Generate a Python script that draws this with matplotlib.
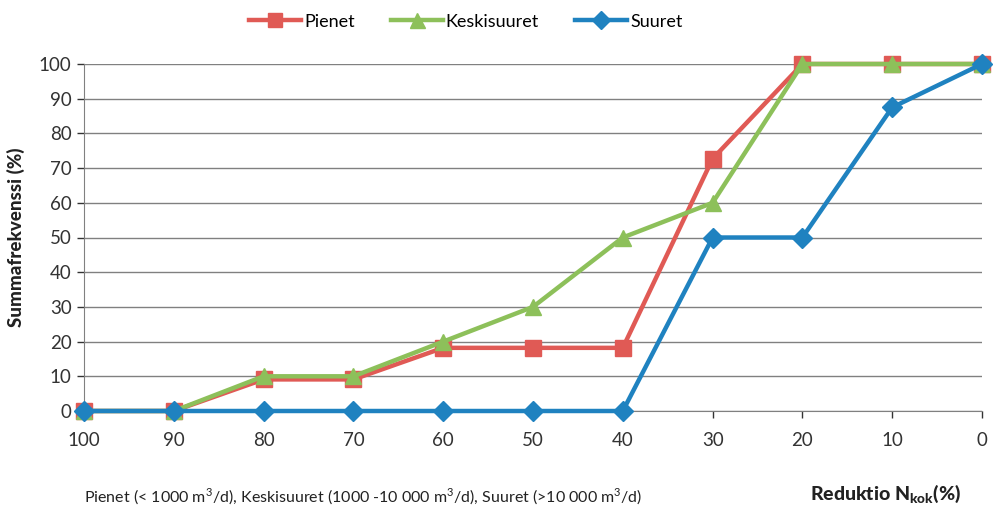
import matplotlib.pyplot as plt

plt.rcParams['font.family'] = ['Lato', 'DejaVu Sans']
plt.rcParams['mathtext.fontset'] = 'custom'
plt.rcParams['mathtext.rm'] = 'Lato'
plt.rcParams['mathtext.bf'] = 'Lato:black'

# data
x_labels = ['100', '90', '80', '70', '60', '50', '40', '30', '20', '10', '0']
pienet = [0, 0, 9.1, 9.1, 18.2, 18.2, 18.2, 72.7, 100, 100, 100]
keskisuuret = [0, 0, 10, 10, 20, 30, 50, 60, 100, 100, 100]
suuret = [0, 0, 0, 0, 0, 0, 0, 50, 50, 87.5, 100]

x = list(range(len(x_labels)))

fig = plt.figure(figsize=(9.95, 5.08), dpi=100)
ax = fig.add_axes([84/995, 1 - 411/508, (982-84)/995, (411-64)/508])

ax.plot(x, pienet, color='#E05A55', lw=3.2, marker='s', markersize=11, label='Pienet', zorder=3)
ax.plot(x, keskisuuret, color='#8DC05A', lw=3.2, marker='^', markersize=12, label='Keskisuuret', zorder=4)
ax.plot(x, suuret, color='#1F82C0', lw=3.2, marker='D', markersize=10, label='Suuret', zorder=5)

ax.set_xlim(0, 10)
ax.set_ylim(0, 100)
ax.set_yticks(range(0, 101, 10))
ax.set_xticks(x)
ax.set_xticklabels(x_labels)
ax.tick_params(axis='both', labelsize=13.5, colors='#333333', length=5, width=1)
ax.tick_params(axis='x', pad=10)
ax.tick_params(axis='y', pad=4)
ax.grid(axis='y', color='#808080', lw=1)
ax.set_axisbelow(True)
for s in ['top', 'right']:
    ax.spines[s].set_visible(False)
for s in ['left', 'bottom']:
    ax.spines[s].set_color('#808080')
for line in ax.lines:
    line.set_clip_on(False)

ax.set_ylabel('Summafrekvenssi (%)', fontsize=13.5, fontweight='black', color='#222222', labelpad=10)

fig.text(810/995, 1 - 494/508, r'Reduktio N$_{\mathbf{kok}}$(%)', fontsize=14, fontweight='black',
         color='#222222', ha='left', va='center')
fig.text(84/995, 1 - 497/508,
         r'Pienet (< 1000 m$^3$/d), Keskisuuret (1000 -10 000 m$^3$/d), Suuret (>10 000 m$^3$/d)',
         fontsize=11.5, color='#222222', ha='left', va='center')

fig.legend(loc='upper center', bbox_to_anchor=(0.468, 1.005), ncol=3, frameon=False,
           fontsize=13, handlelength=2.9, columnspacing=2.0, handletextpad=0.15,
           markerscale=0.9)

fig.savefig('out.png', dpi=100)
